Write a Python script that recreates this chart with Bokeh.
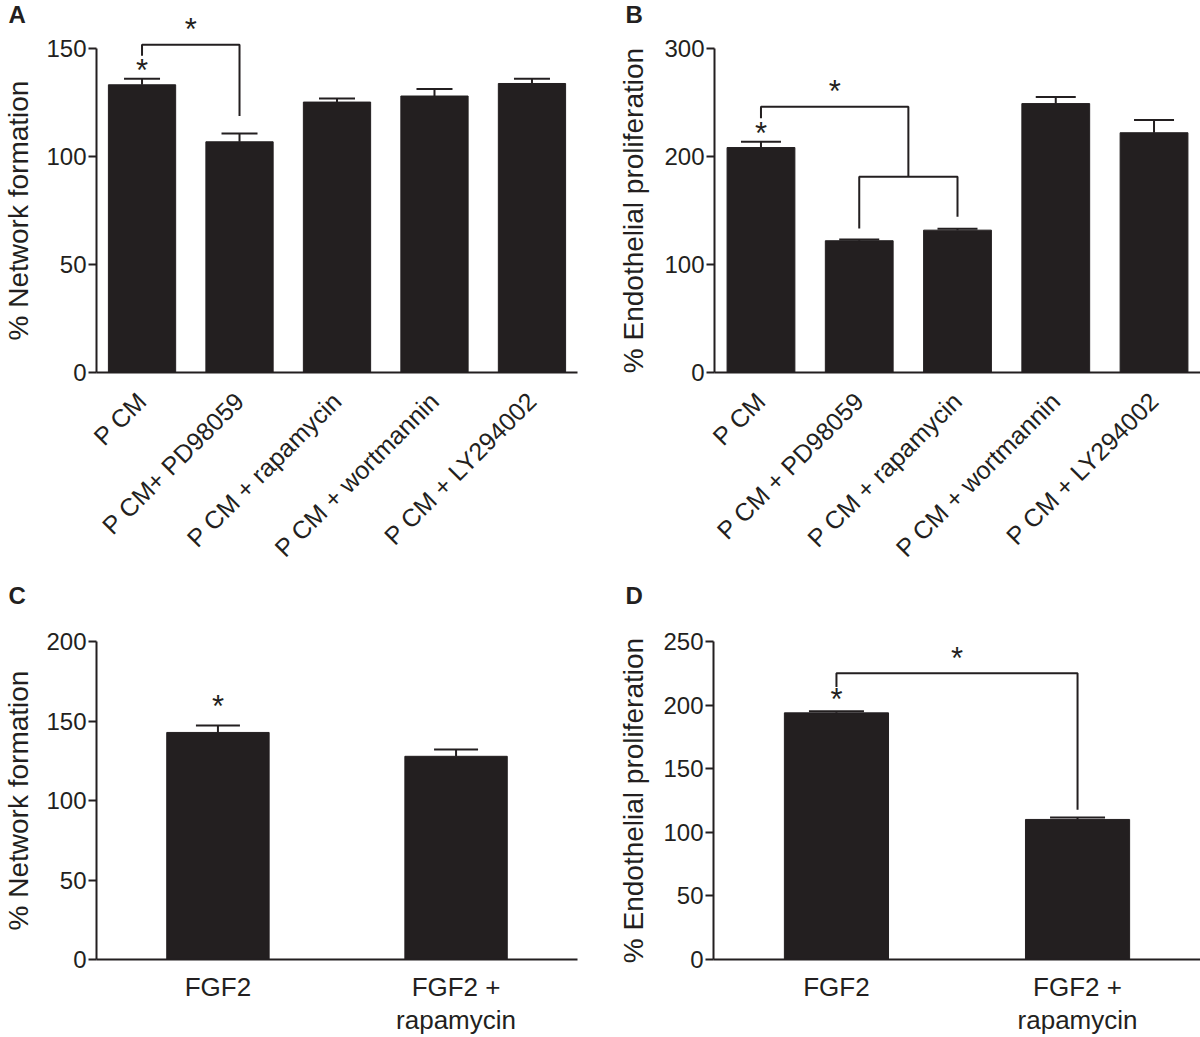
import math
from bokeh.plotting import figure
from bokeh.models import (FactorRange, Range1d, FixedTicker, Whisker, TeeHead,
                          ColumnDataSource)
from bokeh.layouts import row, column
from bokeh.embed import file_html
from bokeh.resources import INLINE
from bokeh.core.properties import value

FONT = "Liberation Sans"
INK = "#231f20"

# ---------------- data ----------------
# Panel A: network formation, P CM with inhibitors
a_cats = ["P CM", "P CM+ PD98059", "P CM + rapamycin", "P CM + wortmannin", "P CM + LY294002"]
a_vals = [133.2, 106.8, 125.2, 128.0, 133.8]
a_sem = [2.8, 3.9, 1.7, 3.2, 2.2]
a_ticks = [0, 50, 100, 150]
a_ylabel = "% Network formation"

# Panel B: endothelial proliferation, P CM with inhibitors
b_cats = ["P CM", "P CM + PD98059", "P CM + rapamycin", "P CM + wortmannin", "P CM + LY294002"]
b_vals = [208.3, 122.0, 131.8, 249.0, 222.0]
b_sem = [5.3, 1.2, 1.2, 6.0, 11.7]
b_ticks = [0, 100, 200, 300]
b_ylabel = "% Endothelial proliferation"

# Panel C: network formation, FGF2
c_cats = ["FGF2", "FGF2 +\nrapamycin"]
c_vals = [142.8, 127.8]
c_sem = [4.3, 4.3]
c_ticks = [0, 50, 100, 150, 200]
c_ylabel = "% Network formation"

# Panel D: endothelial proliferation, FGF2
d_cats = ["FGF2", "FGF2 +\nrapamycin"]
d_vals = [193.9, 110.1]
d_sem = [1.3, 1.5]
d_ticks = [0, 50, 100, 150, 200, 250]
d_ylabel = "% Endothelial proliferation"

# significance brackets (x in bar-index units, y in data units) and stars
a_brackets_x = [[0.5, 0.5, 1.5, 1.5]]
a_brackets_y = [[146.6, 151.7, 151.7, 118.8]]
a_stars_x = [0.5, 1.0]
a_stars_y = [140.8, 159.7]

b_brackets_x = [[0.5, 0.5, 2.0, 2.0], [1.5, 1.5, 2.5, 2.5]]
b_brackets_y = [[235.5, 246.0, 246.0, 181.2], [133.3, 181.2, 181.2, 144.2]]
b_stars_x = [0.5, 1.25]
b_stars_y = [222.9, 261.8]

c_brackets_x = []
c_brackets_y = []
c_stars_x = [0.5]
c_stars_y = [160.5]

d_brackets_x = [[0.5, 0.5, 1.5, 1.5]]
d_brackets_y = [[214.3, 225.0, 225.0, 117.8]]
d_stars_x = [0.5, 1.0]
d_stars_y = [205.8, 238.4]


def panel(letter, cats, vals, sem, ticks, ylabel, bx, by, sx, sy, *,
          width, height, left, right, top, bottom, pad, bar_w, cap,
          rotate, label_standoff, xlabel_size, xlabel_standoff, letter_px):
    y_top = ticks[-1]
    p = figure(width=width, height=height,
               x_range=FactorRange(factors=cats, range_padding=pad,
                                   range_padding_units="absolute"),
               y_range=Range1d(0, y_top),
               output_backend="svg", toolbar_location=None,
               min_border_left=left, min_border_right=right,
               min_border_top=top, min_border_bottom=bottom)
    p.xgrid.visible = False
    p.ygrid.visible = False
    p.outline_line_color = None
    p.background_fill_color = "white"
    p.border_fill_color = "white"

    src = ColumnDataSource(dict(cat=cats, val=vals,
                                top=[v + e for v, e in zip(vals, sem)]))
    p.vbar(x="cat", top="val", bottom=0, width=bar_w, source=src,
           fill_color=INK, line_color=INK, line_width=1)
    w = Whisker(source=src, base="cat", lower="val", upper="top",
                dimension="height", line_color=INK, line_width=2,
                upper_head=TeeHead(size=cap, line_color=INK, line_width=2),
                lower_head=None, level="glyph")
    p.add_layout(w)

    # brackets, stars and panel letter may sit above the plotting frame
    if bx:
        p.multi_line(xs=bx, ys=by, line_color=INK, line_width=2,
                     level="overlay")
    p.text(x=sx, y=sy, text=["*"] * len(sx), text_font=value(FONT),
           text_font_size="31px", text_color=INK, text_align="center",
           text_baseline="alphabetic", y_offset=2, level="overlay")

    ya = p.yaxis[0]
    ya.ticker = FixedTicker(ticks=ticks)
    ya.axis_label = ylabel
    ya.axis_label_text_font = FONT
    ya.axis_label_text_font_style = "normal"
    ya.axis_label_text_font_size = "28px"
    ya.axis_label_text_color = INK
    ya.axis_label_standoff = label_standoff
    ya.major_label_text_font = FONT
    ya.major_label_text_font_size = "24px"
    ya.major_label_text_color = INK
    ya.major_label_standoff = 2
    ya.axis_line_width = 2
    ya.axis_line_color = INK
    ya.major_tick_line_width = 2
    ya.major_tick_line_color = INK
    ya.major_tick_out = 8
    ya.major_tick_in = 0
    ya.minor_tick_line_color = None

    xa = p.xaxis[0]
    xa.axis_line_width = 2
    xa.axis_line_color = INK
    xa.major_tick_line_color = None
    xa.minor_tick_line_color = None
    xa.major_tick_out = 0
    xa.major_tick_in = 0
    xa.major_label_text_font = FONT
    xa.major_label_text_font_size = xlabel_size
    xa.major_label_text_color = INK
    xa.major_label_text_line_height = 1.1
    xa.major_label_standoff = xlabel_standoff
    if rotate:
        xa.major_label_orientation = math.pi / 4

    # panel letter in the top-left corner of the panel
    u = (width - left - right) / (len(cats) + 2 * pad)
    scale = (height - top - bottom) / y_top
    lx = -pad + (letter_px - left) / u
    ly = y_top + top / scale
    p.text(x=[lx], y=[ly], text=[letter], text_font=value(FONT),
           text_font_size="24px", text_font_style="bold", text_color=INK,
           text_align="left", text_baseline="top", level="overlay")
    return p


pa = panel("A", a_cats, a_vals, a_sem, a_ticks, a_ylabel,
           a_brackets_x, a_brackets_y, a_stars_x, a_stars_y,
           width=600, height=580, left=91, right=23, top=48, bottom=208,
           pad=-0.033, bar_w=0.69, cap=36,
           rotate=True, label_standoff=9, xlabel_size="25px",
           xlabel_standoff=24, letter_px=2)
pb = panel("B", b_cats, b_vals, b_sem, b_ticks, b_ylabel,
           b_brackets_x, b_brackets_y, b_stars_x, b_stars_y,
           width=600, height=580, left=114, right=0, top=48, bottom=208,
           pad=-0.027, bar_w=0.69, cap=40,
           rotate=True, label_standoff=12, xlabel_size="25px",
           xlabel_standoff=24, letter_px=25)
pc = panel("C", c_cats, c_vals, c_sem, c_ticks, c_ylabel,
           c_brackets_x, c_brackets_y, c_stars_x, c_stars_y,
           width=600, height=457, left=91, right=23, top=61, bottom=72,
           pad=0.01, bar_w=0.43, cap=44,
           rotate=False, label_standoff=9, xlabel_size="26px",
           xlabel_standoff=12, letter_px=2)
pd_ = panel("D", d_cats, d_vals, d_sem, d_ticks, d_ylabel,
            d_brackets_x, d_brackets_y, d_stars_x, d_stars_y,
            width=600, height=457, left=113, right=0, top=61, bottom=72,
            pad=0.01, bar_w=0.432, cap=55,
            rotate=False, label_standoff=11, xlabel_size="26px",
            xlabel_standoff=12, letter_px=25)

layout = column(row(pa, pb), row(pc, pd_))
open("out.html", "w").write(file_html(layout, INLINE))
